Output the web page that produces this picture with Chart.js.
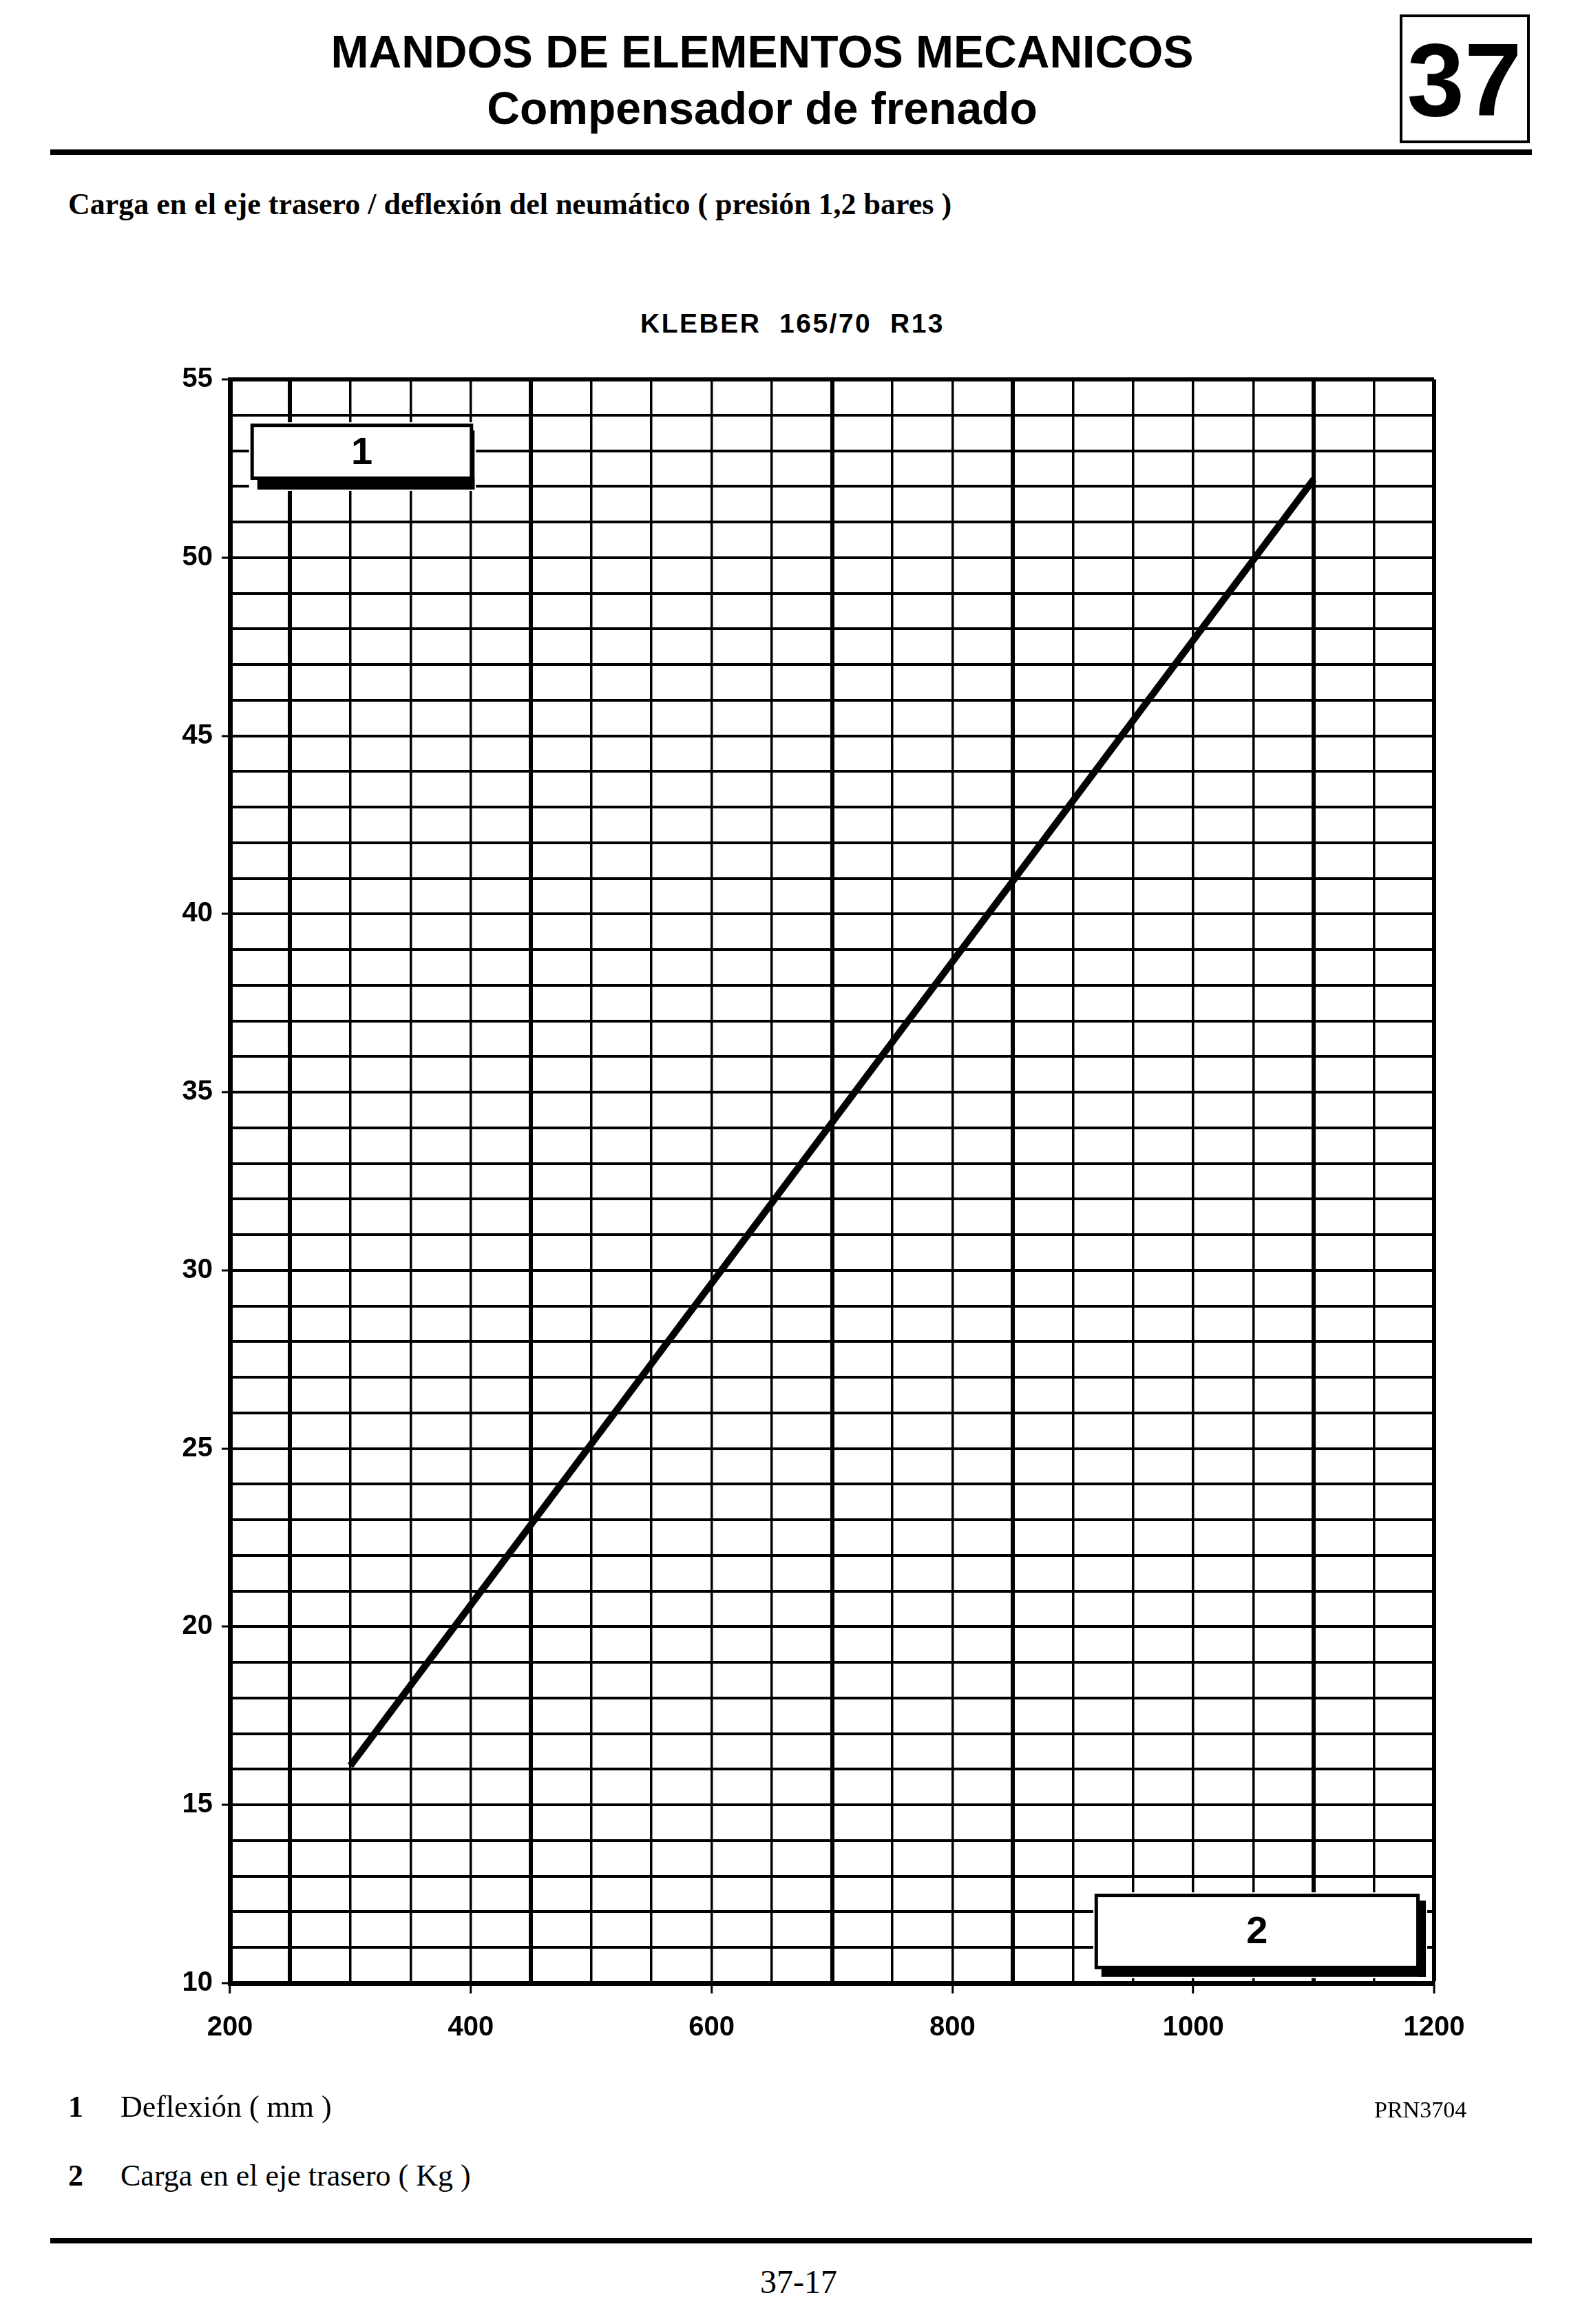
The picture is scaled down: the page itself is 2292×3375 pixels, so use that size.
<!DOCTYPE html>
<html lang="es">
<head>
<meta charset="utf-8">
<title>Compensador de frenado</title>
<script src="https://cdn.jsdelivr.net/npm/chart.js@4.4.1/dist/chart.umd.min.js"></script>
<style>
  html, body { margin: 0; padding: 0; background: #fff; }
  body { position: relative; width: 2292px; height: 3375px; overflow: hidden; color: #000; }
  .txt { position: absolute; white-space: nowrap; line-height: 1; }
  .sans { font-family: "Liberation Sans", Arial, sans-serif; font-weight: bold; }
  .serif { font-family: "Liberation Serif", "Times New Roman", serif; }
  .centro { transform: translateX(-50%); }
  .regla { position: absolute; background: #000; }
  #caja37 { position: absolute; left: 2033px; top: 21px; width: 189px; height: 187px; border: 4px solid #000; box-sizing: border-box; }
  #grafico { position: absolute; left: 0; top: 500px; width: 2292px; height: 2550px; }
</style>
</head>
<body>

<div class="txt sans centro" style="left:1107px; top:42px; font-size:66px;">MANDOS DE ELEMENTOS MECANICOS</div>
<div class="txt sans centro" style="left:1107px; top:124px; font-size:66px;">Compensador de frenado</div>
<div id="caja37"></div>
<div class="txt sans centro" style="left:2127px; top:41px; font-size:150px;">37</div>
<div class="regla" style="left:73px; top:217px; width:2152px; height:8px;"></div>

<div class="txt serif" style="left:99px; top:275px; font-size:44px; font-weight:bold;">Carga en el eje trasero / deflexión del neumático ( presión 1,2 bares )</div>

<div class="txt sans" style="left:930px; top:450px; font-size:39px; letter-spacing:2.5px;">KLEBER&nbsp; 165/70&nbsp; R13</div>

<div id="grafico"><canvas id="grafico-deflexion"></canvas></div>

<div class="txt serif" style="left:99px; top:3038px; font-size:44px; font-weight:bold;">1</div>
<div class="txt serif" style="left:175px; top:3038px; font-size:44px;">Deflexión ( mm )</div>
<div class="txt serif" style="left:1996px; top:3047px; font-size:34px;">PRN3704</div>
<div class="txt serif" style="left:99px; top:3138px; font-size:44px; font-weight:bold;">2</div>
<div class="txt serif" style="left:175px; top:3138px; font-size:44px;">Carga en el eje trasero ( Kg )</div>
<div class="regla" style="left:73px; top:3250px; width:2152px; height:8px;"></div>
<div class="txt serif centro" style="left:1160px; top:3290px; font-size:48px;">37-17</div>

<script>
// carga en el eje trasero (kg) -> deflexion del neumatico (mm)
const cargaKg = [300, 1100];
const deflexionMm = [16.1, 52.2];

const etiquetasCarga = [200, 400, 600, 800, 1000, 1200];
const etiquetasDeflexion = [10, 15, 20, 25, 30, 35, 40, 45, 50, 55];
const textosCajas = ['1', '2'];

// lineas verticales mas gruesas del papel milimetrado escaneado
const lineasGruesasX = [250, 450, 700, 850, 1100];

function puntosSerie() {
    let puntos = [];
    cargaKg.forEach((carga, i) => {
        puntos.push({ x: carga, y: deflexionMm[i] });
    });
    return puntos;
}

// cajas "1" y "2" dibujadas encima de la cuadricula (coordenadas en unidades del grafico)
const cajasEtiqueta = {
    id: 'cajasEtiqueta',
    afterDatasetsDraw(chart) {
        const ctx = chart.ctx;
        const ejeX = chart.scales.x;
        const ejeY = chart.scales.y;
        const cajas = [
            { x1: 217, x2: 402, y1: 53.76, y2: 52.18, sombraAbajo: 14, sombraDerecha: 2 },
            { x1: 918, x2: 1188, y1: 12.51, y2: 10.39, sombraAbajo: 11, sombraDerecha: 9 }
        ];
        ctx.save();
        cajas.forEach((caja, i) => {
            let izq = ejeX.getPixelForValue(caja.x1);
            let der = ejeX.getPixelForValue(caja.x2);
            let arriba = ejeY.getPixelForValue(caja.y1);
            let abajo = ejeY.getPixelForValue(caja.y2);

            ctx.fillStyle = '#fff';
            ctx.fillRect(izq - 2, arriba - 2, der - izq + caja.sombraDerecha + 4, abajo - arriba + caja.sombraAbajo + 4);

            ctx.strokeStyle = '#000';
            ctx.lineWidth = 5;
            ctx.strokeRect(izq + 2.5, arriba + 2.5, der - izq - 5, abajo - arriba - 5);

            ctx.fillStyle = '#000';
            ctx.fillRect(izq + 10, abajo - 3, der - izq - 10 + caja.sombraDerecha, caja.sombraAbajo + 3);
            ctx.fillRect(der - 3, arriba + 10, caja.sombraDerecha + 3, abajo - arriba - 10 + caja.sombraAbajo);

            ctx.font = 'bold 56px "Liberation Sans", Arial, sans-serif';
            ctx.textAlign = 'center';
            ctx.textBaseline = 'middle';
            ctx.fillText(textosCajas[i], (izq + der) / 2, (arriba + abajo) / 2 + 2);
        });
        ctx.restore();
    }
};

function grafikCiz() {
    const data = {
        datasets: [
            {
                label: 'KLEBER 165/70 R13',
                data: puntosSerie(),
                showLine: true,
                borderColor: '#000',
                borderWidth: 10,
                borderCapStyle: 'butt',
                pointRadius: 0,
                pointHoverRadius: 0
            }
        ]
    };

    const fuenteEjes = { family: '"Liberation Sans", Arial, sans-serif', size: 40, weight: 'bold' };

    const config = {
        type: 'scatter',
        data: data,
        options: {
            responsive: true,
            maintainAspectRatio: false,
            devicePixelRatio: 1,
            animation: false,
            events: [],
            layout: { padding: { left: 234, right: 209, top: 51, bottom: 60 } },
            plugins: {
                legend: { display: false },
                tooltip: { enabled: false }
            },
            scales: {
                x: {
                    type: 'linear',
                    min: 200,
                    max: 1200,
                    afterFit: (eje) => { eje.height = 110; },
                    border: { display: true, color: '#000', width: 7 },
                    grid: {
                        color: '#000',
                        lineWidth: (c) => {
                            let v = c.tick ? c.tick.value : 0;
                            if (v === 1200) return 6;
                            return lineasGruesasX.includes(v) ? 6 : 3.5;
                        },
                        tickLength: 15,
                        tickWidth: 3,
                        tickColor: (c) => (c.tick && etiquetasCarga.includes(c.tick.value)) ? '#000' : 'rgba(0,0,0,0)'
                    },
                    ticks: {
                        stepSize: 50,
                        autoSkip: false,
                        maxRotation: 0,
                        padding: 26,
                        color: '#000',
                        font: fuenteEjes,
                        callback: (valor) => etiquetasCarga.includes(valor) ? String(valor) : ''
                    }
                },
                y: {
                    type: 'linear',
                    min: 10,
                    max: 55,
                    afterFit: (eje) => { eje.width = 100; },
                    border: { display: true, color: '#000', width: 7 },
                    grid: {
                        color: '#000',
                        lineWidth: (c) => (c.tick && c.tick.value === 55) ? 6 : 4,
                        tickLength: 12,
                        tickWidth: 3,
                        tickColor: (c) => (c.tick && etiquetasDeflexion.includes(c.tick.value)) ? '#000' : 'rgba(0,0,0,0)'
                    },
                    ticks: {
                        stepSize: 1,
                        autoSkip: false,
                        padding: 13,
                        color: '#000',
                        font: fuenteEjes,
                        callback: (valor) => etiquetasDeflexion.includes(valor) ? String(valor) : ''
                    }
                }
            }
        },
        plugins: [cajasEtiqueta]
    };

    const grafikElement = document.getElementById('grafico-deflexion');
    new Chart(grafikElement, config);
}

grafikCiz();
</script>
</body>
</html>
